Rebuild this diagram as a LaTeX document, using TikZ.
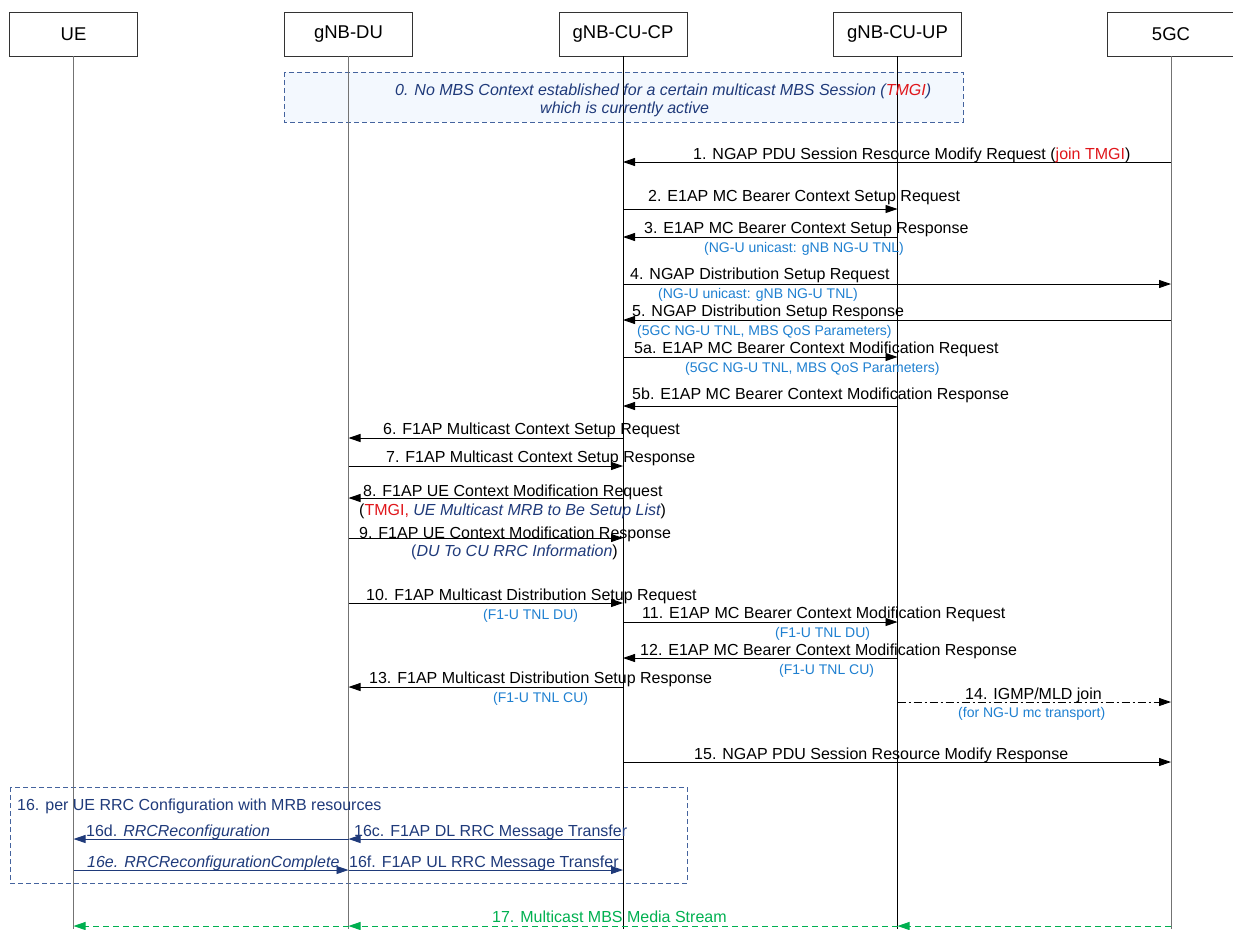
\documentclass[tikz,border=0pt]{standalone}
\usepackage{fontspec}
\setmainfont{Liberation Sans}
\usetikzlibrary{arrows.meta}

\definecolor{navy}{HTML}{1F3A7A}
\definecolor{tnlblue}{HTML}{1E7FD0}
\definecolor{tmgired}{HTML}{E0161B}
\definecolor{mbsgreen}{HTML}{00B050}
\definecolor{grpline}{HTML}{44639E}
\definecolor{grpfill}{HTML}{F3F8FE}

\begin{document}
\begin{tikzpicture}[
  x=1pt, y=-1pt,
  ent/.style={draw=black!80, line width=0.8pt, minimum width=128pt, minimum height=44pt,
              inner sep=0pt, font=\fontsize{18.5}{20}\selectfont},
  life/.style={line width=0.8pt, black!55},
  msg/.style={line width=0.9pt, -{Triangle[length=12pt,width=8pt]}},
  lbl/.style={anchor=base west, inner sep=0pt, font=\fontsize{16}{18}\selectfont},
  tnl/.style={anchor=base west, inner sep=0pt, font=\fontsize{14}{16}\selectfont, text=tnlblue},
  note/.style={anchor=base west, inner sep=0pt, font=\fontsize{16}{18}\selectfont\itshape, text=navy},
  grp/.style={draw=grpline, line width=0.8pt, dash pattern=on 5pt off 3pt},
  stream/.style={mbsgreen, line width=0.9pt, dash pattern=on 6pt off 4pt,
                 -{Triangle[length=12pt,width=8pt]}},
]
  \useasboundingbox (0,0) rectangle (1233,929);

  % Entities
  \node[ent] (ue)   at (73.5,34)  {UE};
  \node[ent] (du)   at (348.5,34) {gNB-DU};
  \node[ent] (cucp) at (623,34)   {gNB-CU-CP};
  \node[ent] (cuup) at (897.5,34) {gNB-CU-UP};
  \node[ent] (fgc)  at (1171,34)  {5GC};

  % ── Group boxes ──
  \draw[grp, fill=grpfill] (284,72) rectangle (963,122);
  \draw[grp] (10,787) rectangle (687,883);

  % Lifelines
  \coordinate (bot) at (0,929);
  \draw[life] (ue.south) -- (ue |- bot);
  \draw[life] (du.south) -- (du |- bot);
  \draw[life, black] (cucp.south) -- (cucp |- bot);
  \draw[life, black] (cuup.south) -- (cuup |- bot);
  \draw[life] (fgc.south) -- (fgc |- bot);

  % Message rows
  \foreach \n/\y in {1/162, 2/209, 3/237, 4/284, 5/320, 5a/357, 5b/406, 6/438, 7/466, 8/498,
                     9/538, 10/603, 11/622, 12/658, 13/687, 14/702, 15/762, 16c/839, 16e/870, 17/926}
    { \coordinate (m\n) at (0,\y); }

  % 0. precondition
  \node[note] (n0a) at (395,95) {0. No MBS Context established for a certain multicast MBS Session (\textcolor{tmgired}{TMGI})};
  \node[note] (n0b) at (540,113) {which is currently active};

  % ── NGAP / E1AP setup ──
  \draw[msg] (fgc |- m1) -- (cucp |- m1);
  \node[lbl] (l1) at (693,159) {1. NGAP PDU Session Resource Modify Request (\textcolor{tmgired}{join TMGI})};

  \draw[msg] (cucp |- m2) -- (cuup |- m2);
  \node[lbl] (l2) at (648,201) {2. E1AP MC Bearer Context Setup Request};

  \draw[msg] (cuup |- m3) -- (cucp |- m3);
  \node[lbl] (l3) at (644,233) {3. E1AP MC Bearer Context Setup Response};
  \node[tnl] (t3) at (704,252) {(NG-U unicast: gNB NG-U TNL)};

  \draw[msg] (cucp |- m4) -- (fgc |- m4);
  \node[lbl] (l4) at (630,279) {4. NGAP Distribution Setup Request};
  \node[tnl] (t4) at (658,298) {(NG-U unicast: gNB NG-U TNL)};

  \draw[msg] (fgc |- m5) -- (cucp |- m5);
  \node[lbl] (l5) at (632,316) {5. NGAP Distribution Setup Response};
  \node[tnl] (t5) at (637,335) {(5GC NG-U TNL, MBS QoS Parameters)};

  \draw[msg] (cucp |- m5a) -- (cuup |- m5a);
  \node[lbl] (l5a) at (634,353) {5a. E1AP MC Bearer Context Modification Request};
  \node[tnl] (t5a) at (685,372) {(5GC NG-U TNL, MBS QoS Parameters)};

  \draw[msg] (cuup |- m5b) -- (cucp |- m5b);
  \node[lbl] (l5b) at (632,399) {5b. E1AP MC Bearer Context Modification Response};

  % ── F1AP ──
  \draw[msg] (cucp |- m6) -- (du |- m6);
  \node[lbl] (l6) at (383,434) {6. F1AP Multicast Context Setup Request};

  \draw[msg] (du |- m7) -- (cucp |- m7);
  \node[lbl] (l7) at (386,462) {7. F1AP Multicast Context Setup Response};

  \draw[msg] (cucp |- m8) -- (du |- m8);
  \node[lbl] (l8) at (363,496) {8. F1AP UE Context Modification Request};
  \node[lbl] (s8) at (359,515) {(\textcolor{tmgired}{TMGI,} \textcolor{navy}{\itshape UE Multicast MRB to Be Setup List})};

  \draw[msg] (du |- m9) -- (cucp |- m9);
  \node[lbl] (l9) at (359,538) {9. F1AP UE Context Modification Response};
  \node[lbl] (s9) at (411,556) {\textcolor{navy}{(\itshape DU To CU RRC Information})};

  \draw[msg] (du |- m10) -- (cucp |- m10);
  \node[lbl] (l10) at (366,600) {10. F1AP Multicast Distribution Setup Request};
  \node[tnl] (t10) at (483,619) {(F1-U TNL DU)};

  \draw[msg] (cucp |- m11) -- (cuup |- m11);
  \node[lbl] (l11) at (642,618) {11. E1AP MC Bearer Context Modification Request};
  \node[tnl] (t11) at (775,637) {(F1-U TNL DU)};

  \draw[msg] (cuup |- m12) -- (cucp |- m12);
  \node[lbl] (l12) at (640,655) {12. E1AP MC Bearer Context Modification Response};
  \node[tnl] (t12) at (779,674) {(F1-U TNL CU)};

  \draw[msg] (cucp |- m13) -- (du |- m13);
  \node[lbl] (l13) at (369,683) {13. F1AP Multicast Distribution Setup Response};
  \node[tnl] (t13) at (493,702) {(F1-U TNL CU)};

  \draw[msg, dash pattern=on 8pt off 3pt on 2pt off 3pt] (cuup |- m14) -- (fgc |- m14);
  \node[lbl] (l14) at (965,699) {14. IGMP/MLD join};
  \node[tnl] (t14) at (958,717) {(for NG-U mc transport)};

  \draw[msg] (cucp |- m15) -- (fgc |- m15);
  \node[lbl] (l15) at (694,759) {15. NGAP PDU Session Resource Modify Response};

  % ── 16. per UE RRC ──
  \node[lbl, text=navy] (l16) at (17,810) {16. per UE RRC Configuration with MRB resources};
  \draw[msg, navy] (cucp |- m16c) -- (du |- m16c);
  \node[lbl, text=navy] (l16c) at (354,836) {16c. F1AP DL RRC Message Transfer};
  \draw[msg, navy] (du |- m16c) -- (ue |- m16c);
  \node[lbl, text=navy] (l16d) at (86,836) {16d. \textit{RRCReconfiguration}};
  \draw[msg, navy] (ue |- m16e) -- (du |- m16e);
  \node[note] (l16e) at (87,867) {16e. RRCReconfigurationComplete};
  \draw[msg, navy] (du |- m16e) -- (cucp |- m16e);
  \node[lbl, text=navy] (l16f) at (349,867) {16f. F1AP UL RRC Message Transfer};

  % 17. media stream
  \draw[stream] (fgc |- m17) -- (cuup |- m17);
  \draw[stream] (cuup |- m17) -- (du |- m17);
  \draw[stream] (du |- m17) -- (ue |- m17);
  \node[lbl, text=mbsgreen] (l17) at (492,922) {17. Multicast MBS Media Stream};

\end{tikzpicture}
\end{document}
